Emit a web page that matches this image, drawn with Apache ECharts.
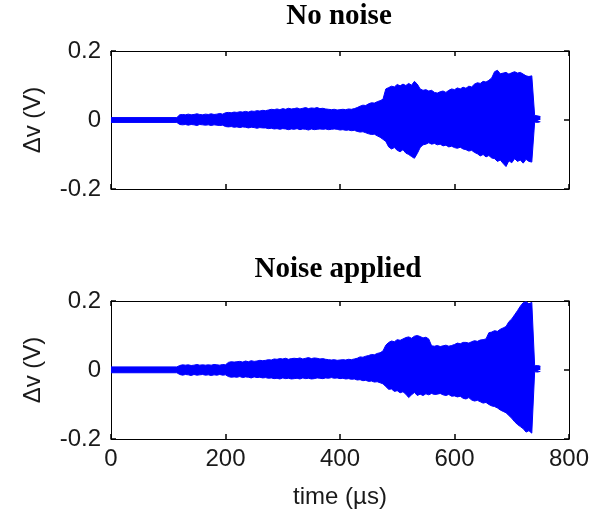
<!DOCTYPE html>
<html>
<head>
<meta charset="utf-8">
<title>Δv vs time</title>
<script src="https://cdn.jsdelivr.net/npm/echarts@6/dist/echarts.min.js"></script>
<style>
  html, body { margin: 0; padding: 0; background: #fff; }
  #main { width: 597px; height: 510px; }
</style>
</head>
<body>
<div id="main"></div>
<script>
// time (us): 0, 115, then 120..750 every 5
var timeUs = [0, 115,
  120, 125, 130, 135, 140, 145, 150, 155, 160, 165,
  170, 175, 180, 185, 190, 195, 200, 205, 210, 215,
  220, 225, 230, 235, 240, 245, 250, 255, 260, 265,
  270, 275, 280, 285, 290, 295, 300, 305, 310, 315,
  320, 325, 330, 335, 340, 345, 350, 355, 360, 365,
  370, 375, 380, 385, 390, 395, 400, 405, 410, 415,
  420, 425, 430, 435, 440, 445, 450, 455, 460, 465,
  470, 475, 480, 485, 490, 495, 500, 505, 510, 515,
  520, 525, 530, 535, 540, 545, 550, 555, 560, 565,
  570, 575, 580, 585, 590, 595, 600, 605, 610, 615,
  620, 625, 630, 635, 640, 645, 650, 655, 660, 665,
  670, 675, 680, 685, 690, 695, 700, 705, 710, 715,
  720, 725, 730, 735, 740, 745, 750];

// "No noise" envelope (V)
var noNoiseUpper = [0.007, 0.007,
  0.015, 0.016, 0.015, 0.017, 0.015, 0.016, 0.018, 0.016, 0.015, 0.017,
  0.016, 0.018, 0.016, 0.017, 0.019, 0.017, 0.021, 0.022, 0.021, 0.023,
  0.022, 0.024, 0.023, 0.025, 0.023, 0.026, 0.025, 0.027, 0.026, 0.028,
  0.027, 0.029, 0.031, 0.030, 0.032, 0.030, 0.033, 0.031, 0.034, 0.032,
  0.033, 0.035, 0.032, 0.034, 0.036, 0.033, 0.035, 0.034, 0.036, 0.033,
  0.034, 0.032, 0.031, 0.030, 0.031, 0.029, 0.030, 0.031, 0.030, 0.032,
  0.031, 0.033, 0.036, 0.040, 0.043, 0.042, 0.047, 0.050, 0.049, 0.053,
  0.056, 0.060, 0.090, 0.094, 0.098, 0.096, 0.103, 0.099, 0.104, 0.100,
  0.106, 0.101, 0.112, 0.104, 0.090, 0.086, 0.088, 0.084, 0.086, 0.080,
  0.078, 0.082, 0.084, 0.080, 0.086, 0.090, 0.088, 0.093, 0.090, 0.095,
  0.092, 0.098, 0.096, 0.104, 0.108, 0.106, 0.112, 0.110, 0.115, 0.122,
  0.140, 0.144, 0.134, 0.136, 0.138, 0.133, 0.137, 0.140, 0.136, 0.138,
  0.133, 0.128, 0.126, 0.128, 0.013, 0.012, 0.010];
var noNoiseLower = [-0.007, -0.007,
  -0.013, -0.014, -0.013, -0.015, -0.013, -0.014, -0.016, -0.013, -0.014, -0.015,
  -0.014, -0.016, -0.014, -0.015, -0.016, -0.015, -0.019, -0.020, -0.019, -0.021,
  -0.020, -0.022, -0.020, -0.021, -0.023, -0.021, -0.022, -0.024, -0.022, -0.023,
  -0.023, -0.025, -0.024, -0.026, -0.025, -0.027, -0.025, -0.026, -0.028, -0.026,
  -0.027, -0.025, -0.028, -0.026, -0.027, -0.029, -0.026, -0.028, -0.027, -0.026,
  -0.027, -0.026, -0.028, -0.027, -0.026, -0.027, -0.029, -0.028, -0.030, -0.029,
  -0.031, -0.030, -0.033, -0.035, -0.034, -0.037, -0.040, -0.042, -0.041, -0.046,
  -0.050, -0.056, -0.062, -0.078, -0.084, -0.080, -0.088, -0.092, -0.086, -0.096,
  -0.100, -0.106, -0.111, -0.097, -0.080, -0.072, -0.070, -0.066, -0.070, -0.068,
  -0.072, -0.070, -0.075, -0.073, -0.078, -0.076, -0.080, -0.082, -0.079, -0.084,
  -0.086, -0.090, -0.088, -0.094, -0.098, -0.104, -0.100, -0.107, -0.103, -0.110,
  -0.112, -0.120, -0.116, -0.126, -0.135, -0.118, -0.124, -0.112, -0.120, -0.116,
  -0.125, -0.114, -0.120, -0.122, -0.006, -0.007, -0.005];

// "Noise applied" envelope (V)
var noiseUpper = [0.009, 0.009,
  0.013, 0.015, 0.014, 0.015, 0.013, 0.014, 0.016, 0.014, 0.015, 0.014,
  0.015, 0.014, 0.016, 0.015, 0.014, 0.016, 0.015, 0.022, 0.024, 0.023,
  0.024, 0.025, 0.023, 0.026, 0.024, 0.027, 0.025, 0.026, 0.028, 0.027,
  0.028, 0.030, 0.029, 0.032, 0.031, 0.033, 0.032, 0.034, 0.031, 0.033,
  0.034, 0.033, 0.035, 0.032, 0.034, 0.036, 0.033, 0.035, 0.034, 0.032,
  0.033, 0.031, 0.030, 0.029, 0.030, 0.028, 0.029, 0.030, 0.029, 0.031,
  0.030, 0.032, 0.034, 0.038, 0.037, 0.040, 0.042, 0.045, 0.044, 0.048,
  0.050, 0.055, 0.072, 0.080, 0.084, 0.082, 0.088, 0.086, 0.090, 0.094,
  0.096, 0.092, 0.098, 0.100, 0.097, 0.093, 0.095, 0.090, 0.070, 0.069,
  0.071, 0.068, 0.070, 0.072, 0.069, 0.071, 0.074, 0.078, 0.076, 0.080,
  0.080, 0.078, 0.082, 0.085, 0.083, 0.087, 0.088, 0.090, 0.108, 0.110,
  0.114, 0.112, 0.118, 0.122, 0.126, 0.140, 0.148, 0.160, 0.172, 0.185,
  0.195, 0.198, 0.192, 0.196, 0.012, 0.013, 0.011];
var noiseLower = [-0.008, -0.008,
  -0.013, -0.015, -0.013, -0.014, -0.016, -0.013, -0.015, -0.014, -0.013, -0.015,
  -0.014, -0.016, -0.014, -0.015, -0.013, -0.015, -0.014, -0.019, -0.021, -0.020,
  -0.021, -0.019, -0.022, -0.020, -0.021, -0.023, -0.020, -0.022, -0.021, -0.023,
  -0.022, -0.024, -0.023, -0.025, -0.024, -0.026, -0.023, -0.025, -0.024, -0.026,
  -0.025, -0.024, -0.026, -0.023, -0.025, -0.024, -0.026, -0.025, -0.023, -0.024,
  -0.025, -0.023, -0.024, -0.022, -0.024, -0.023, -0.025, -0.024, -0.026, -0.025,
  -0.027, -0.026, -0.029, -0.028, -0.031, -0.030, -0.033, -0.032, -0.035, -0.034,
  -0.037, -0.040, -0.048, -0.056, -0.055, -0.062, -0.060, -0.066, -0.063, -0.070,
  -0.080, -0.072, -0.065, -0.074, -0.070, -0.074, -0.069, -0.072, -0.068, -0.071,
  -0.070, -0.068, -0.072, -0.074, -0.071, -0.076, -0.075, -0.078, -0.076, -0.082,
  -0.084, -0.080, -0.087, -0.090, -0.088, -0.092, -0.096, -0.094, -0.100, -0.104,
  -0.106, -0.110, -0.116, -0.120, -0.124, -0.132, -0.140, -0.150, -0.158, -0.164,
  -0.170, -0.180, -0.176, -0.183, -0.005, -0.006, -0.004];

var xTicks = [0, 800, 200];       // min, max, interval
var yTicks = [-0.2, 0.2, 0.2];

var titles = ['No noise', 'Noise applied'];
var yName = 'Δv (V)';
var xName = 'time (µs)';

var blue = '#0000ff';
var sans = 'Liberation Sans';
var textColor = '#1a1a1a';

var chart = echarts.init(document.getElementById('main'));

function pairs(t, v) {
  return t.map(function (x, i) { return [x, v[i]]; });
}

function band(axisIdx, vals) {
  return {
    type: 'line',
    xAxisIndex: axisIdx,
    yAxisIndex: axisIdx,
    data: pairs(timeUs, vals),
    symbol: 'none',
    silent: true,
    lineStyle: { color: blue, width: 1 },
    areaStyle: { color: blue, opacity: 1 }
  };
}

function xAx(grid, pos, labels) {
  return {
    gridIndex: grid, type: 'value', position: pos,
    min: xTicks[0], max: xTicks[1], interval: xTicks[2],
    axisLine: { show: true, onZero: false, lineStyle: { color: '#000', width: 1 } },
    axisTick: { show: true, inside: true, length: 5, lineStyle: { color: '#000', width: 1.5 } },
    axisLabel: { show: labels, color: textColor, fontFamily: sans, fontSize: 24, margin: 8 },
    splitLine: { show: false }
  };
}

function yAx(grid, pos, labels) {
  return {
    gridIndex: grid, type: 'value', position: pos,
    min: yTicks[0], max: yTicks[1], interval: yTicks[2],
    axisLine: { show: true, onZero: false, lineStyle: { color: '#000', width: 1 } },
    axisTick: { show: true, inside: true, length: 5, lineStyle: { color: '#000', width: 1.5 } },
    axisLabel: { show: labels, color: textColor, fontFamily: sans, fontSize: 24, margin: 10 },
    splitLine: { show: false }
  };
}

var xAxes = [xAx(0, 'bottom', false), xAx(0, 'top', false), xAx(1, 'bottom', true), xAx(1, 'top', false)];
var yAxes = [yAx(0, 'left', true), yAx(0, 'right', false), yAx(1, 'left', true), yAx(1, 'right', false)];

// axis names
xAxes[2].name = xName;
xAxes[2].nameLocation = 'middle';
xAxes[2].nameGap = 46;
xAxes[2].nameTextStyle = { color: textColor, fontFamily: sans, fontSize: 24 };
[0, 2].forEach(function (i) {
  yAxes[i].name = yName;
  yAxes[i].nameLocation = 'middle';
  yAxes[i].nameGap = 66;
  yAxes[i].nameTextStyle = { color: textColor, fontFamily: sans, fontSize: 24 };
});

var option = {
  backgroundColor: '#fff',
  animation: false,
  title: [
    { text: titles[0], left: 339, top: 2, textAlign: 'center', padding: 0,
      textStyle: { color: '#000', fontFamily: 'Liberation Serif', fontWeight: 'bold', fontSize: 29 } },
    { text: titles[1], left: 338, top: 255, textAlign: 'center', padding: 0,
      textStyle: { color: '#000', fontFamily: 'Liberation Serif', fontWeight: 'bold', fontSize: 29 } }
  ],
  grid: [
    { left: 111, top: 51, width: 458, height: 138 },
    { left: 111, top: 301, width: 458, height: 138 }
  ],
  xAxis: xAxes,
  yAxis: yAxes,
  series: [
    band(0, noNoiseUpper), band(0, noNoiseLower),
    band(2, noiseUpper), band(2, noiseLower)
  ]
};

chart.setOption(option);
</script>
</body>
</html>
